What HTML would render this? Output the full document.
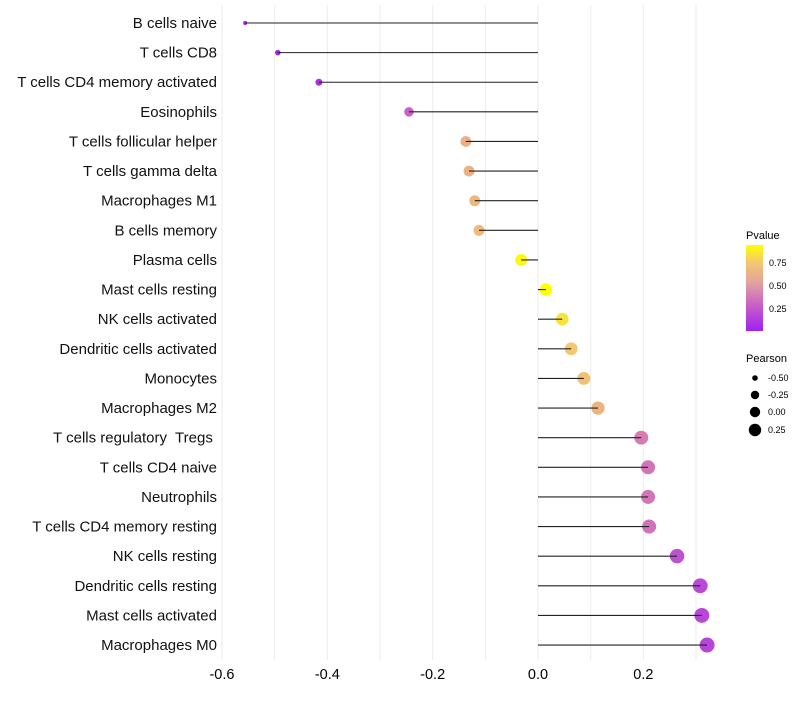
<!DOCTYPE html>
<html><head><meta charset="utf-8"><style>
body{margin:0;background:#fff;font-family:"Liberation Sans",sans-serif}
text{white-space:pre}
</style></head><body>
<svg id="c" width="800" height="700" xmlns="http://www.w3.org/2000/svg" font-family="Liberation Sans, sans-serif">
<defs><linearGradient id="g" x1="0" y1="1" x2="0" y2="0">
<stop offset="0" stop-color="#a020f0"/><stop offset="0.3" stop-color="#c860c8"/><stop offset="0.55" stop-color="#e0a0a0"/><stop offset="0.8" stop-color="#f4c870"/><stop offset="1" stop-color="#ffff00"/>
</linearGradient></defs>
<g id="grid"></g><g id="marks"></g><g id="labels"></g>
<g>
<text x="746" y="239" font-size="11">Pvalue</text>
<rect x="746" y="245" width="17" height="86" fill="url(#g)"/>
<text x="769" y="266" font-size="9">0.75</text>
<text x="769" y="289" font-size="9">0.50</text>
<text x="769" y="312" font-size="9">0.25</text>
</g>
<g>
<text x="746" y="362" font-size="11">Pearson</text>
<circle cx="755" cy="378" r="2.8" fill="#000"/>
<circle cx="755" cy="395" r="4.2" fill="#000"/>
<circle cx="755" cy="412" r="5.2" fill="#000"/>
<circle cx="755" cy="430" r="6.2" fill="#000"/>
<text x="768" y="381" font-size="9">-0.50</text>
<text x="768" y="398" font-size="9">-0.25</text>
<text x="768" y="415" font-size="9">0.00</text>
<text x="768" y="433" font-size="9">0.25</text>
</g>
</svg>
<script>
const categories=["B cells naive","T cells CD8","T cells CD4 memory activated","Eosinophils","T cells follicular helper","T cells gamma delta","Macrophages M1","B cells memory","Plasma cells","Mast cells resting","NK cells activated","Dendritic cells activated","Monocytes","Macrophages M2","T cells regulatory  Tregs ","T cells CD4 naive","Neutrophils","T cells CD4 memory resting","NK cells resting","Dendritic cells resting","Mast cells activated","Macrophages M0"];
const pearson=[-0.556,-0.494,-0.416,-0.245,-0.137,-0.131,-0.120,-0.112,-0.032,0.015,0.046,0.063,0.087,0.114,0.196,0.209,0.209,0.211,0.264,0.308,0.311,0.321];
const pvalues=[0.01,0.02,0.06,0.27,0.62,0.63,0.68,0.7,0.93,0.95,0.87,0.8,0.74,0.66,0.38,0.35,0.35,0.34,0.2,0.17,0.16,0.15];
const xTicks=[-0.6,-0.4,-0.2,0.0,0.2];
const xTickLabels=["-0.6","-0.4","-0.2","0.0","0.2"];
const NS="http://www.w3.org/2000/svg";
const X=v=>538+v*526.7;
const Y=i=>23+i*29.62;
const R=v=>Math.sqrt(Math.max(2,37+59.4*v));
const stops=[[0,[160,32,240]],[0.3,[205,105,195]],[0.55,[232,165,140]],[0.8,[244,200,112]],[0.95,[255,255,0]]];
function col(p){p=Math.max(0,Math.min(0.95,p));for(let k=1;k<stops.length;k++){if(p<=stops[k][0]){const a=stops[k-1],b=stops[k],t=(p-a[0])/(b[0]-a[0]);return "rgb("+a[1].map((c,j)=>Math.round(c+(b[1][j]-c)*t)).join(",")+")";}}return "rgb(255,255,0)";}
function mk(t,a,par){const e=document.createElementNS(NS,t);for(const k in a)e.setAttribute(k,a[k]);par.appendChild(e);return e;}
const grid=document.getElementById('grid'),marks=document.getElementById('marks'),labels=document.getElementById('labels');
for(let v=-0.6;v<=0.36;v+=0.1){const l=mk('line',{x1:X(v),x2:X(v),y1:5,y2:660,stroke:'#ebebeb','stroke-width':1},grid);

}
xTicks.forEach((v,i)=>{const t=mk('text',{x:X(v),y:679,'font-size':14.5,'text-anchor':'middle',fill:'#000'},labels);t.textContent=xTickLabels[i];

});
categories.forEach((c,i)=>{
const d=mk('circle',{cx:X(pearson[i]),cy:Y(i),r:R(pearson[i]),fill:col(pvalues[i])},marks);


const s=mk('line',{x1:X(0),x2:X(pearson[i]),y1:Y(i),y2:Y(i),stroke:'#222','stroke-width':1.1},marks);


const t=mk('text',{x:217,y:Y(i)+5,'font-size':15,'text-anchor':'end',fill:'#111'},labels);t.textContent=c;


});
</script>
</body></html>
